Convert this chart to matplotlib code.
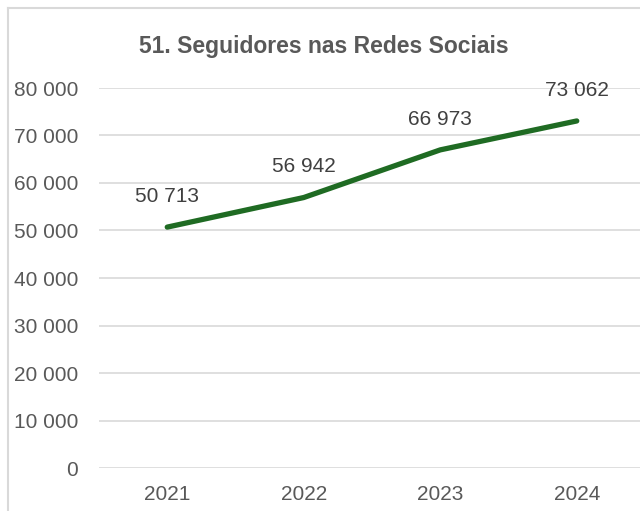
import matplotlib
matplotlib.use("Agg")
import matplotlib.pyplot as plt
from matplotlib.lines import Line2D

years = ["2021", "2022", "2023", "2024"]
followers = [50713, 56942, 66973, 73062]
yticks = [0, 10000, 20000, 30000, 40000, 50000, 60000, 70000, 80000]
title = "51. Seguidores nas Redes Sociais"

def fmt(v):
    return f"{v:,}".replace(",", " ")

plt.rcParams['font.family'] = ['Liberation Sans', 'DejaVu Sans']

W, H = 640, 511
fig = plt.figure(figsize=(W / 100, H / 100), dpi=100)

# chart border (left & top visible)
fig.add_artist(Line2D([7.5 / W, 7.5 / W], [0, 1 - 8.5 / H], color="#d9d9d9", lw=1.5, transform=fig.transFigure))
fig.add_artist(Line2D([7.5 / W, 1], [1 - 8.5 / H, 1 - 8.5 / H], color="#d9d9d9", lw=1.5, transform=fig.transFigure))

ax = fig.add_axes([99 / W, 43 / H, 546 / W, 380 / H])
x = list(range(len(years)))
ax.plot(x, followers, color="#1f6b23", lw=3.8, solid_capstyle="round", solid_joinstyle="round", zorder=3)
for xi, v in zip(x, followers):
    ax.annotate(fmt(v), (xi, v), xytext=(0, 22), textcoords="offset points",
                ha="center", va="center", fontsize=15, color="#404040")

ax.set_xlim(-0.5, len(years) - 0.5)
ax.set_ylim(0, 80000)
ax.set_yticks(yticks)
ax.set_yticklabels([fmt(v) for v in yticks])
ax.set_xticks(x)
ax.set_xticklabels(years)
ax.yaxis.grid(True, color="#d9d9d9", lw=1.2)
ax.set_axisbelow(True)
for s in ax.spines.values():
    s.set_visible(False)
ax.tick_params(axis="both", length=0, labelsize=15, colors="#595959")
ax.tick_params(axis="y", pad=15)
ax.tick_params(axis="x", pad=12)

fig.text(324 / W, 1 - 46 / H, title, ha="center", va="center", fontsize=16.5,
         fontweight="bold", color="#595959")

fig.savefig("out.png", dpi=100)
